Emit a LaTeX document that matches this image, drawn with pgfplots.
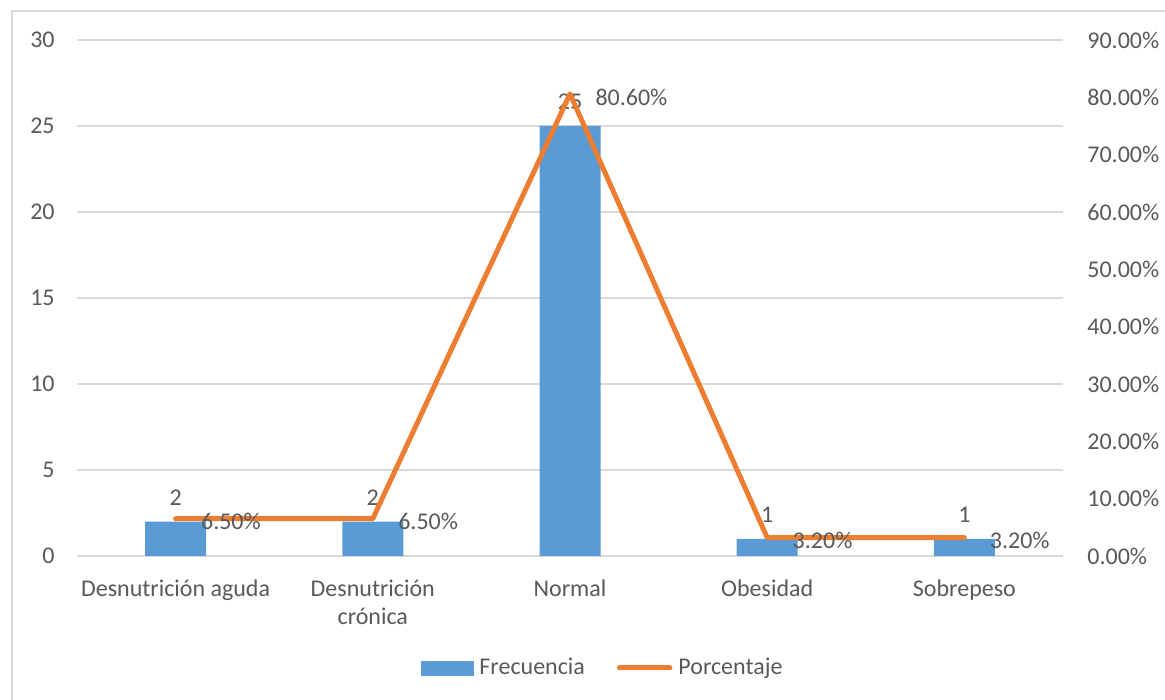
\documentclass[border=0pt]{standalone}
\usepackage{pgfplots}
\pgfplotsset{compat=1.18}
\usepackage{fontspec}
\setmainfont{Carlito}
\definecolor{barblue}{HTML}{5B9BD5}
\definecolor{lineorange}{HTML}{ED7D31}
\definecolor{gridgray}{HTML}{D9D9D9}
\definecolor{textgray}{HTML}{595959}
\newcommand{\lblfont}{\fontsize{12}{14}\selectfont}
\newcommand{\vs}{\rule{0pt}{10pt}}
\begin{document}
\begin{tikzpicture}
\path[use as bounding box] (0,0) rectangle (582.5pt,350pt);
\draw[gridgray, line width=1pt] (5.75pt,0) -- (5.75pt,344.5pt) -- (582.5pt,344.5pt);
\pgfplotsset{
  base/.style={
    scale only axis, width=493pt, height=258pt,
    at={(38.5pt,72pt)}, anchor=south west,
    xmin=-0.5, xmax=4.5,
    axis line style={draw=none},
    major tick length=0pt,
    tick label style={font=\lblfont, text=textgray},
    /pgf/number format/assume math mode=true,
  }
}
\begin{axis}[base,
  ymin=0, ymax=30, ytick={0,5,...,30},
  ymajorgrids, grid style={gridgray, line width=0.75pt},
  xtick={0,1,2,3,4},
  xticklabels={\vs Desnutrición aguda, \vs Desnutrición\\crónica, \vs Normal, \vs Obesidad, \vs Sobrepeso},
  xticklabel style={align=center, anchor=north, inner sep=0pt, yshift=-10pt},
  yticklabel style={anchor=east, inner sep=0pt, xshift=-11pt},
]
\addplot[ybar, bar width=30.5pt, fill=barblue, draw=none,
  nodes near coords,
  point meta=y,
  every node near coord/.append style={font=\lblfont, text=textgray, inner sep=0pt, anchor=south, yshift=8pt}]
  coordinates {(0,2) (1,2) (2,25) (3,1) (4,1)};
\end{axis}
\begin{axis}[base,
  ymin=0, ymax=90, ytick={0,10,...,90},
  axis y line*=right, axis x line=none,
  yticklabel={\pgfmathprintnumber[fixed,fixed zerofill,precision=2]{\tick}\%},
  yticklabel style={anchor=west, inner sep=0pt, xshift=12pt},
  legend columns=2,
  legend style={at={(0.532,-0.217)}, anchor=center, draw=none, fill=none,
    font=\lblfont, text=textgray, inner sep=0pt,
    nodes={inner sep=0pt},
    /tikz/every even column/.append style={column sep=16pt},
    /tikz/every odd column/.append style={column sep=3pt}},
]
\addlegendimage{legend image code/.code={\fill[barblue] (0pt,-3.5pt) rectangle (26pt,3.5pt);}}
\addlegendentry{Frecuencia}
\addplot[lineorange, line width=2.5pt, line cap=round, line join=round,
  legend image code/.code={\draw[lineorange, line width=2.5pt, line cap=round] (1.25pt,0pt) -- (26.5pt,0pt);},
  nodes near coords={\pgfmathprintnumber[fixed,fixed zerofill,precision=2]{\pgfplotspointmeta}\%},
  point meta=y,
  every node near coord/.append style={font=\lblfont, text=textgray, inner sep=0pt, anchor=west, xshift=11.5pt, yshift=-1.5pt}]
  coordinates {(0,6.5) (1,6.5) (2,80.6) (3,3.2) (4,3.2)};
\addlegendentry{Porcentaje}
\end{axis}
\end{tikzpicture}
\end{document}
